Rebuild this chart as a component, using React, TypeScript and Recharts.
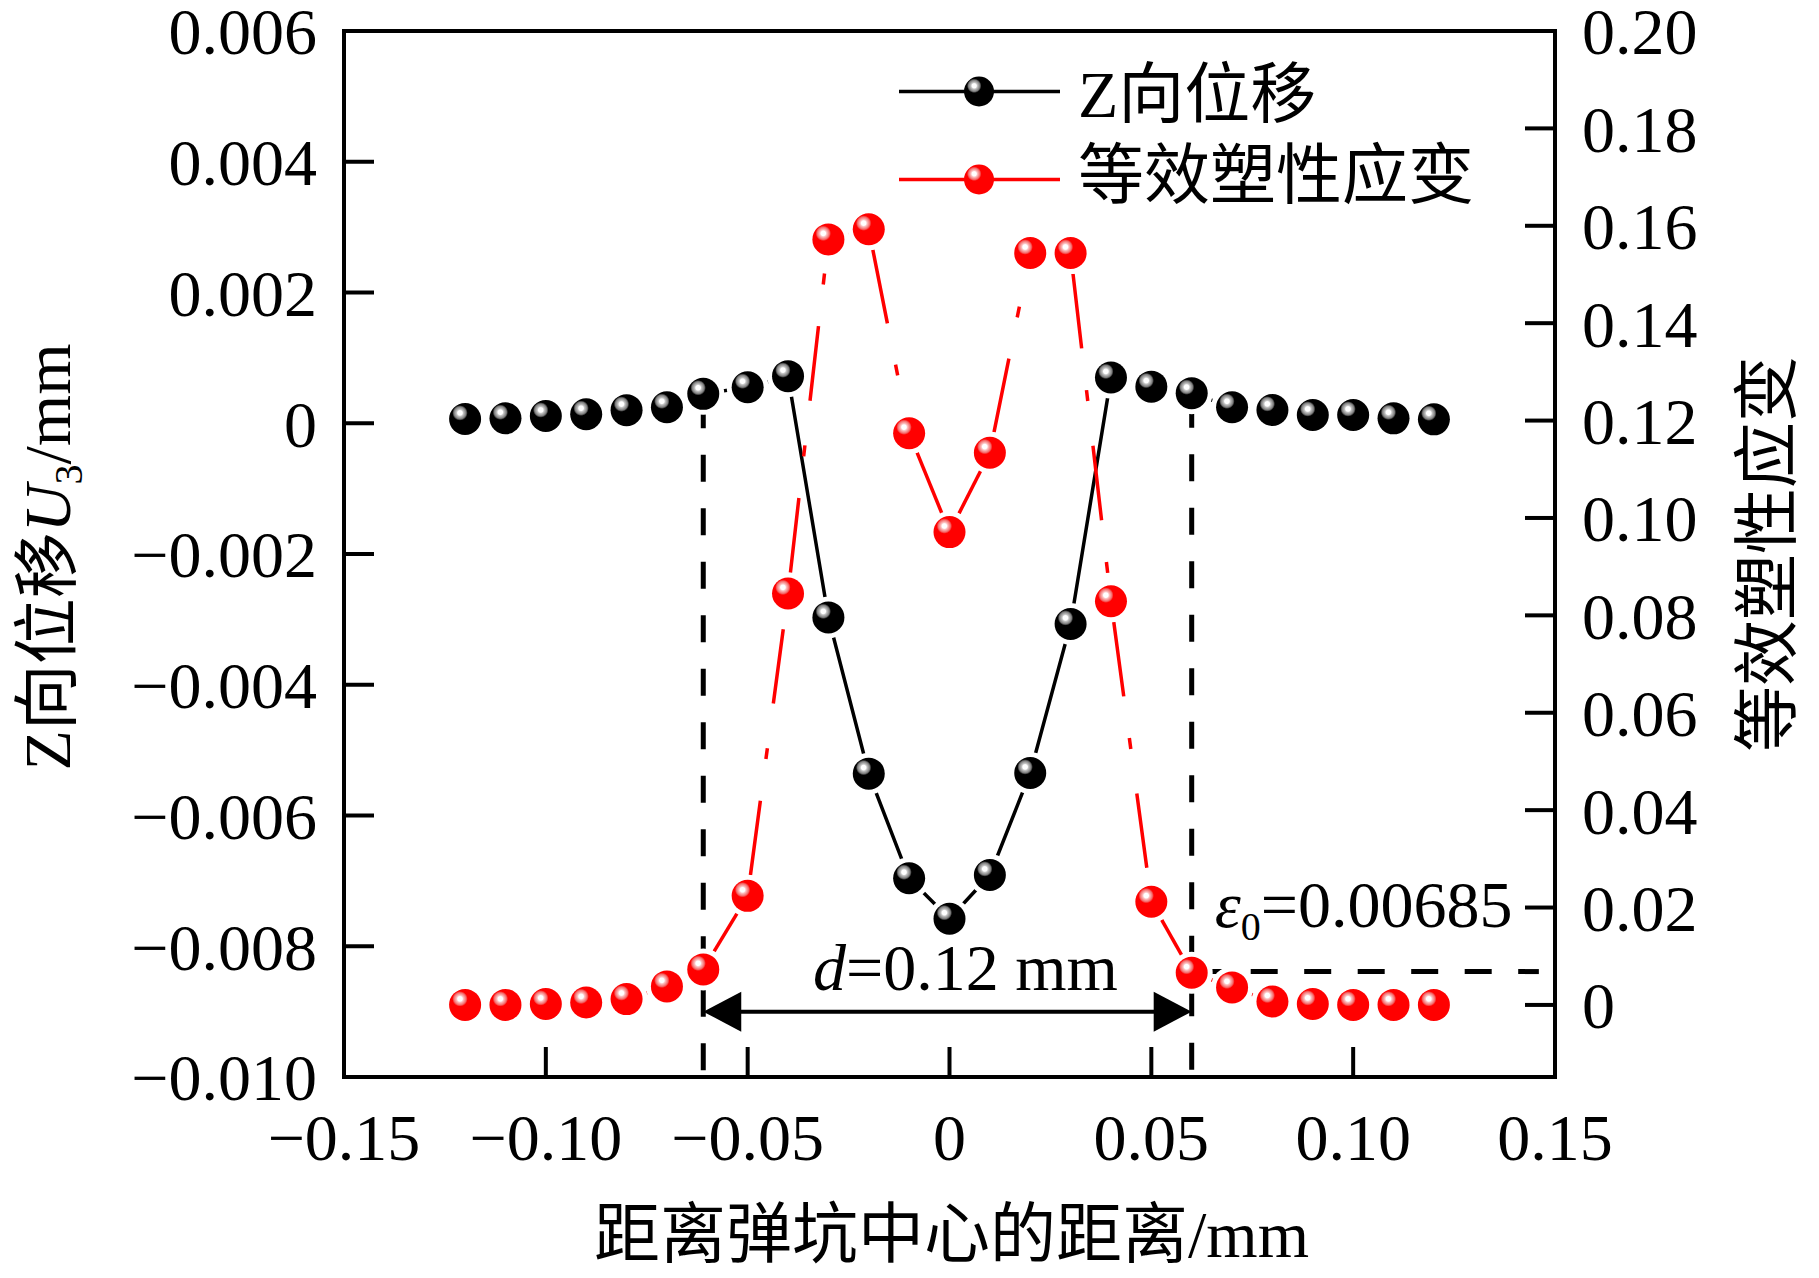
import React from 'react';
import { LineChart, Line, XAxis, YAxis, ReferenceLine, Legend } from 'recharts';

const SERIF = "'Liberation Serif', 'Times New Roman', 'Noto Sans CJK SC', serif";

// distance from crater centre, mm
const xPos = [
  -0.12, -0.11, -0.1, -0.09, -0.08, -0.07, -0.061, -0.05, -0.04, -0.03, -0.02, -0.01, 0,
  0.01, 0.02, 0.03, 0.04, 0.05, 0.06, 0.07, 0.08, 0.09, 0.1, 0.11, 0.12,
];
// Z displacement U3, mm (left axis)
const zDisp = [
  0.000065, 0.000076, 0.00011, 0.000137, 0.0002, 0.000244, 0.00045, 0.00055, 0.00072,
  -0.00297, -0.00536, -0.00696, -0.00758, -0.00691, -0.00535, -0.00307, 0.0007, 0.00056,
  0.00046, 0.000244, 0.000203, 0.000126, 0.000126, 0.000075, 0.00006,
];
// equivalent plastic strain (right axis)
const peeq = [
  0, 0, 0.0002, 0.0005, 0.0012, 0.0038, 0.0073, 0.0224, 0.0845, 0.1572, 0.1593, 0.1174,
  0.0971, 0.1134, 0.1544, 0.1544, 0.0829, 0.0212, 0.0066, 0.0036, 0.0007, 0.0002, 0, 0, 0,
];

const xTicks = [-0.15, -0.1, -0.05, 0, 0.05, 0.1, 0.15];
const xTickLabels = ['\u22120.15', '\u22120.10', '\u22120.05', '0', '0.05', '0.10', '0.15'];
const leftTicks = [-0.01, -0.008, -0.006, -0.004, -0.002, 0, 0.002, 0.004, 0.006];
const leftTickLabels = [
  '\u22120.010', '\u22120.008', '\u22120.006', '\u22120.004', '\u22120.002', '0', '0.002', '0.004', '0.006',
];
const rightTicks = [0, 0.02, 0.04, 0.06, 0.08, 0.1, 0.12, 0.14, 0.16, 0.18, 0.2];
const rightTickLabels = ['0', '0.02', '0.04', '0.06', '0.08', '0.10', '0.12', '0.14', '0.16', '0.18', '0.20'];

// crater edges (d = 0.12 mm), threshold strain and arrow height
const craterEdge = [-0.061, 0.06];
const eps0 = 0.00685;
const arrowY = -0.009;

const rows = xPos.map((x, i) => ({ x, z: zDisp[i], e: peeq[i] }));
const peeqSegments = rows.slice(1).map((r, i) => [rows[i], r]);
const edgeTop = craterEdge.map((x) => zDisp[xPos.indexOf(x)]);

const labelFrom = (ticks: number[], labels: string[]) => (v: number) => {
  const i = ticks.findIndex((t) => Math.abs(t - v) < 1e-9);
  return i >= 0 ? labels[i] : '';
};

const tickStyle = { fill: '#000', fontSize: 66, fontFamily: SERIF };
const axisStroke = { stroke: '#000', strokeWidth: 4, strokeLinecap: 'square' as const };
const tickStroke = { stroke: '#000', strokeWidth: 4 };

function Ball({ cx, cy, grad, r = 16, halo = true }: any) {
  if (cx == null || cy == null) return null;
  return (
    <g>
      {halo && <circle cx={cx} cy={cy} r={r + 5} fill="#fff" />}
      <circle cx={cx} cy={cy} r={r} fill={`url(#${grad})`} />
    </g>
  );
}

const ballDot = (grad: string) => (p: any) => (
  <Ball key={`${grad}-${p.index}`} cx={p.cx} cy={p.cy} grad={grad} />
);

const dashedShape = (offset: number) => (p: any) => (
  <line
    x1={p.x1}
    y1={p.y1}
    x2={p.x2}
    y2={p.y2}
    stroke="#000"
    strokeWidth={5}
    strokeDasharray="27 26.5"
    strokeDashoffset={offset}
    fill="none"
  />
);

const ArrowShape = (p: any) => {
  const { x1, y1, x2, y2 } = p;
  const len = 38;
  const half = 20;
  return (
    <g>
      <line x1={x1 + 10} y1={y1} x2={x2 - 10} y2={y2} stroke="#000" strokeWidth={4} />
      <polygon points={`${x1},${y1} ${x1 + len},${y1 - half} ${x1 + len},${y1 + half}`} fill="#000" />
      <polygon points={`${x2},${y2} ${x2 - len},${y2 - half} ${x2 - len},${y2 + half}`} fill="#000" />
    </g>
  );
};

const DiameterLabel = ({ viewBox }: any) => (
  <text
    x={viewBox.x + viewBox.width / 2 + 18}
    y={viewBox.y - 22}
    textAnchor="middle"
    fontSize={66}
    fontFamily={SERIF}
    fill="#000"
  >
    <tspan fontStyle="italic">d</tspan>=0.12 mm
  </text>
);

const EpsLabel = ({ viewBox }: any) => (
  <text x={viewBox.x + 23} y={viewBox.y - 45} fontSize={66} fontFamily={SERIF} fill="#000">
    <tspan fontStyle="italic">ε</tspan>
    <tspan fontSize={40} dy={13}>0</tspan>
    <tspan dy={-13}>=0.00685</tspan>
  </text>
);

const LeftTitle = ({ viewBox }: any) => (
  <text
    transform={`translate(70, ${viewBox.y + viewBox.height / 2 + 3}) rotate(-90)`}
    textAnchor="middle"
    fontSize={66}
    fontFamily={SERIF}
    fill="#000"
  >
    Z向位移<tspan fontStyle="italic">U</tspan>
    <tspan fontSize={40} dy={12}>3</tspan>
    <tspan dy={-12}>/mm</tspan>
  </text>
);

const RightTitle = ({ viewBox }: any) => (
  <text
    transform={`translate(1790, ${viewBox.y + viewBox.height / 2}) rotate(-90)`}
    textAnchor="middle"
    fontSize={66}
    fontFamily={SERIF}
    fill="#000"
  >
    等效塑性应变
  </text>
);

const BottomTitle = ({ viewBox }: any) => (
  <text
    x={viewBox.x + viewBox.width / 2 + 2}
    y={1257}
    textAnchor="middle"
    fontSize={66}
    fontFamily={SERIF}
    fill="#000"
  >
    距离弹坑中心的距离/mm
  </text>
);

const legendRows = [
  { name: 'Z向位移', color: '#000', grad: 'ballBlack', lineY: 51.5, textY: 77 },
  { name: '等效塑性应变', color: '#ff0000', grad: 'ballRed', lineY: 139.5, textY: 158 },
];

const LegendBox = () => (
  <svg width={640} height={200}>
    {legendRows.map((r) => (
      <g key={r.name}>
        <line x1={9} y1={r.lineY} x2={170} y2={r.lineY} stroke={r.color} strokeWidth={3.5} />
        <Ball cx={89} cy={r.lineY} grad={r.grad} r={15} halo={false} />
        <text x={188} y={r.textY} fontSize={66} fontFamily={SERIF} fill="#000">
          {r.name}
        </text>
      </g>
    ))}
  </svg>
);

export default function App() {
  return (
    <div style={{ position: 'absolute', left: 0, top: 0, width: 1819, height: 1278, background: '#fff' }}>
      <svg width={0} height={0} style={{ position: 'absolute' }}>
        <defs>
          <radialGradient id="ballBlack" cx="0.34" cy="0.31" r="0.24" fx="0.34" fy="0.31">
            <stop offset="0" stopColor="#ffffff" />
            <stop offset="0.3" stopColor="#ffffff" />
            <stop offset="0.45" stopColor="#c4c4c4" />
            <stop offset="0.8" stopColor="#7a7a7a" />
            <stop offset="1" stopColor="#000000" />
          </radialGradient>
          <radialGradient id="ballRed" cx="0.34" cy="0.31" r="0.24" fx="0.34" fy="0.31">
            <stop offset="0" stopColor="#ffffff" />
            <stop offset="0.3" stopColor="#ffffff" />
            <stop offset="0.45" stopColor="#fbc2c2" />
            <stop offset="0.8" stopColor="#f46a6a" />
            <stop offset="1" stopColor="#ff0000" />
          </radialGradient>
        </defs>
      </svg>
      <LineChart width={1819} height={1278} data={rows} margin={{ top: 31, right: 0, bottom: 0, left: 0 }}>
        <XAxis
          dataKey="x"
          type="number"
          domain={[-0.15, 0.15]}
          ticks={xTicks}
          interval={0}
          allowDataOverflow
          height={201}
          tickSize={-30}
          tickMargin={66}
          tick={tickStyle}
          tickLine={tickStroke}
          axisLine={axisStroke}
          tickFormatter={labelFrom(xTicks, xTickLabels)}
          label={BottomTitle}
        />
        <YAxis
          yAxisId="left"
          type="number"
          domain={[-0.01, 0.006]}
          ticks={leftTicks}
          interval={0}
          allowDataOverflow
          width={344}
          tickSize={-30}
          tickMargin={57}
          tick={tickStyle}
          tickLine={tickStroke}
          axisLine={axisStroke}
          tickFormatter={labelFrom(leftTicks, leftTickLabels)}
          label={LeftTitle}
        />
        <YAxis
          yAxisId="right"
          orientation="right"
          type="number"
          domain={[-0.0148, 0.2]}
          ticks={rightTicks}
          interval={0}
          allowDataOverflow
          width={264}
          tickSize={-30}
          tickMargin={57}
          tick={tickStyle}
          tickLine={tickStroke}
          axisLine={axisStroke}
          tickFormatter={labelFrom(rightTicks, rightTickLabels)}
          label={RightTitle}
        />
        <ReferenceLine yAxisId="left" y={0.006} stroke="#000" strokeWidth={4} strokeLinecap="square" />
        {craterEdge.map((x, k) => (
          <ReferenceLine
            key={`edge-${k}`}
            yAxisId="left"
            segment={[{ x, y: edgeTop[k] }, { x, y: -0.01 }]}
            shape={dashedShape(46)}
            ifOverflow="visible"
          />
        ))}
        <ReferenceLine
          yAxisId="left"
          segment={[{ x: craterEdge[0], y: arrowY }, { x: craterEdge[1], y: arrowY }]}
          shape={ArrowShape}
          label={DiameterLabel}
          ifOverflow="visible"
        />
        <Line
          yAxisId="left"
          dataKey="z"
          stroke="#000"
          strokeWidth={3.5}
          dot={ballDot('ballBlack')}
          activeDot={false}
          isAnimationActive={false}
        />
        {peeqSegments.map((seg, i) => (
          <Line
            key={`seg-${i}`}
            yAxisId="right"
            data={seg}
            dataKey="e"
            stroke="#ff0000"
            strokeWidth={3.5}
            strokeDasharray="75 42 11 45"
            strokeDashoffset={152}
            dot={false}
            activeDot={false}
            legendType="none"
            isAnimationActive={false}
          />
        ))}
        <Line
          yAxisId="right"
          dataKey="e"
          stroke="none"
          dot={ballDot('ballRed')}
          activeDot={false}
          isAnimationActive={false}
        />
        <ReferenceLine
          yAxisId="right"
          segment={[{ x: 0.06, y: eps0 }, { x: 0.146, y: eps0 }]}
          shape={dashedShape(48)}
          label={EpsLabel}
          ifOverflow="visible"
        />
        <Legend
          layout="vertical"
          align="center"
          verticalAlign="middle"
          content={LegendBox}
          wrapperStyle={{ position: 'absolute', left: 890, top: 40, width: 640, height: 200 }}
        />
      </LineChart>
    </div>
  );
}
